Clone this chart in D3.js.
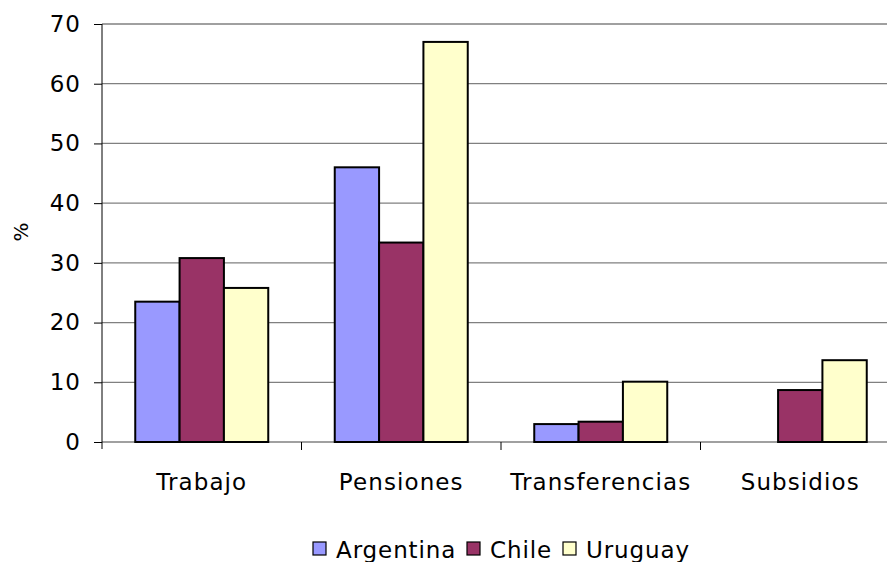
<!DOCTYPE html>
<html>
<head>
<meta charset="utf-8">
<script src="https://d3js.org/d3.v7.min.js"></script>
<style>
body{margin:0;background:#fff;}
svg{display:block;font-family:"DejaVu Sans",Verdana,sans-serif;}
</style>
</head>
<body>
<script>
var categories = ["Trabajo","Pensiones","Transferencias","Subsidios"];
var seriesNames = ["Argentina","Chile","Uruguay"];
var argentina = [23.5, 46, 3, 0];
var chile = [30.8, 33.4, 3.4, 8.7];
var uruguay = [25.8, 67, 10.1, 13.7];
var yTicks = [0,10,20,30,40,50,60,70];
var colors = ["#9999ff","#993366","#ffffcc"];

var values = [argentina, chile, uruguay];
var W = 887, H = 562;
var plotLeft = 102, plotRight = 900, plotTop = 24, plotBottom = 442;

var svg = d3.select("body").append("svg")
    .attr("width", W)
    .attr("height", H);

var y = d3.scaleLinear().domain([0,70]).range([plotBottom, plotTop]);
var x = d3.scaleBand().domain(categories).range([plotLeft, plotRight]).paddingInner(0).paddingOuter(0);
// gap width 150% of a bar -> 3 bars + 1.5 bars of gap
var x1 = d3.scaleBand().domain(seriesNames).range([0, x.bandwidth()]).paddingOuter(0.75).paddingInner(0);

// gridlines
svg.append("g").selectAll("line")
    .data(yTicks.slice(1))
    .enter().append("line")
    .attr("x1", plotLeft).attr("x2", plotRight)
    .attr("y1", function(d){ return y(d); })
    .attr("y2", function(d){ return y(d); })
    .attr("stroke", "#808080")
    .attr("stroke-width", 1.3);

// bottom axis line (grey like gridlines)
svg.append("line")
    .attr("x1", plotLeft).attr("x2", plotRight)
    .attr("y1", y(0)).attr("y2", y(0))
    .attr("stroke", "#808080")
    .attr("stroke-width", 1.3);

// y axis
var yAxis = svg.append("g")
    .attr("transform", "translate(" + plotLeft + ",0)")
    .call(d3.axisLeft(y).tickValues(yTicks).tickSize(8).tickPadding(13).tickSizeOuter(0));
yAxis.select(".domain").remove();
yAxis.append("line").attr("x1",0).attr("x2",0).attr("y1",plotTop).attr("y2",plotBottom+7).attr("stroke","#000");
yAxis.selectAll(".tick line").attr("stroke", "#000");
yAxis.selectAll(".tick text")
    .attr("fill", "#000")
    .style("font-size", "23px")
    .style("letter-spacing", "1px")
    .attr("font-family", "DejaVu Sans");

// x axis ticks at band boundaries
var bounds = categories.map(function(c){ return x(c); }).concat([plotRight]);
svg.append("g").selectAll("line")
    .data(bounds.slice(1))
    .enter().append("line")
    .attr("x1", function(d){ return d; }).attr("x2", function(d){ return d; })
    .attr("y1", plotBottom).attr("y2", plotBottom + 8)
    .attr("stroke", "#000");

svg.append("g").selectAll("text")
    .data(categories)
    .enter().append("text")
    .attr("x", function(d){ return x(d) + x.bandwidth()/2; })
    .attr("y", 490)
    .attr("text-anchor", "middle")
    .style("font-size", "23px")
    .style("letter-spacing", "1.1px")
    .attr("fill", "#000")
    .text(function(d){ return d; });

// bars
var groups = svg.append("g").selectAll("g")
    .data(categories)
    .enter().append("g")
    .attr("transform", function(d){ return "translate(" + x(d) + ",0)"; });

groups.selectAll("rect")
    .data(function(d, i){
        return seriesNames.map(function(s, j){ return {s: s, v: values[j][i], j: j}; }).filter(function(e){ return e.v > 0; });
    })
    .enter().append("rect")
    .attr("x", function(d){ return x1(d.s); })
    .attr("width", x1.bandwidth())
    .attr("y", function(d){ return y(d.v); })
    .attr("height", function(d){ return y(0) - y(d.v); })
    .attr("fill", function(d){ return colors[d.j]; })
    .attr("stroke", "#000")
    .attr("stroke-width", 2);

// y label
svg.append("text")
    .attr("transform", "translate(28,232) rotate(-90)")
    .attr("text-anchor", "middle")
    .style("font-size", "20px")
    .attr("fill", "#000")
    .text("%");

// legend
var legendX = [313, 467, 563];
var legend = svg.append("g").selectAll("g")
    .data(seriesNames)
    .enter().append("g")
    .attr("transform", function(d, i){ return "translate(" + legendX[i] + ",542)"; });
legend.append("rect")
    .attr("width", 13).attr("height", 13)
    .attr("fill", function(d, i){ return colors[i]; })
    .attr("stroke", "#000")
    .attr("stroke-width", 1.2);
legend.append("text")
    .attr("x", 23).attr("y", 16)
    .style("font-size", "23px")
    .style("letter-spacing", "0.9px")
    .attr("fill", "#000")
    .text(function(d){ return d; });
</script>
</body>
</html>
